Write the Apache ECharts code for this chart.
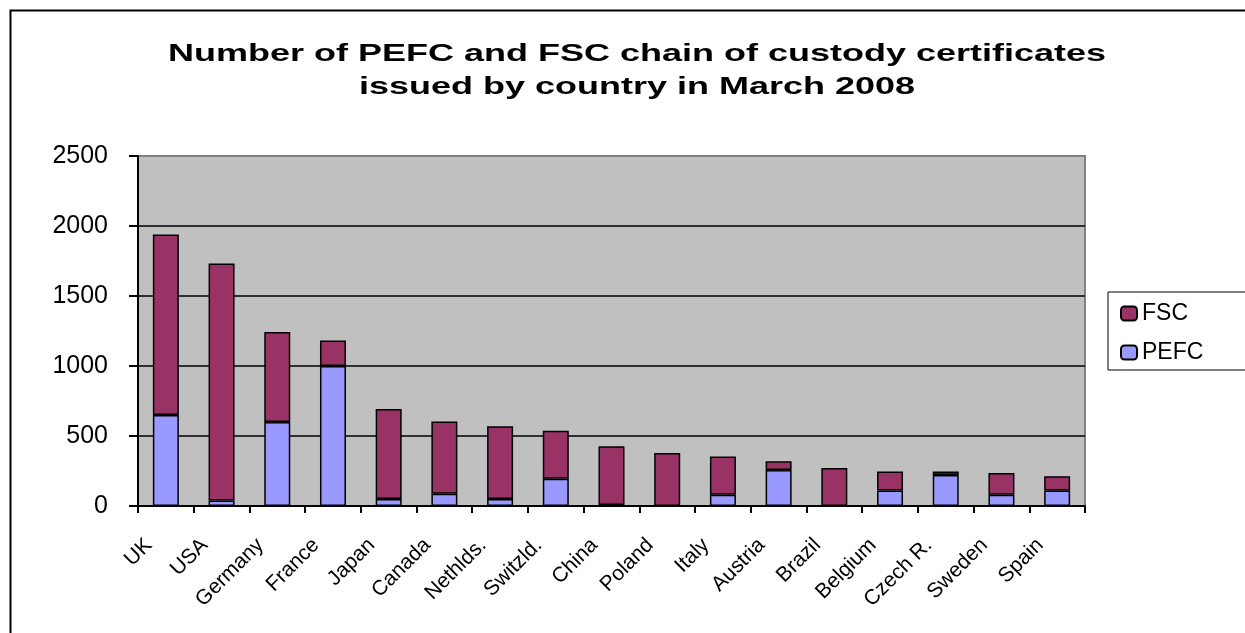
<!DOCTYPE html>
<html>
<head>
<meta charset="utf-8">
<script src="https://cdn.jsdelivr.net/npm/echarts@6/dist/echarts.min.js"></script>
<style>
html,body{margin:0;padding:0;background:#fff;}
#chart{width:1245px;height:633px;}
</style>
</head>
<body>
<div id="chart"></div>
<script>
var titleLines = ['Number of PEFC and FSC chain of custody certificates', 'issued by country in March 2008'];
var categories = ['UK','USA','Germany','France','Japan','Canada','Nethlds.','Switzld.','China','Poland','Italy','Austria','Brazil','Belgium','Czech R.','Sweden','Spain'];
var pefcValues = [650, 40, 600, 1000, 50, 88, 50, 195, 8, 0, 80, 257, 0, 110, 222, 80, 110];
var fscValues = [1290, 1692, 642, 182, 642, 516, 519, 343, 418, 378, 274, 62, 271, 137, 25, 155, 102];
var yTicks = [0, 500, 1000, 1500, 2000, 2500];

var chart = echarts.init(document.getElementById('chart'));
var font = 'Liberation Sans, Arial, sans-serif';
chart.setOption({
  backgroundColor: '#ffffff',
  animation: false,
  graphic: [
    {type: 'rect', shape: {x: 10.5, y: 10.5, width: 1400, height: 800}, style: {fill: 'none', stroke: '#000', lineWidth: 2}, z: 0},
    {type: 'text', x: 637, y: 38, scaleX: 1.5, scaleY: 1, z: 10,
     style: {text: titleLines.join('\n'), font: 'bold 24px ' + font, fill: '#000', textAlign: 'center', textVerticalAlign: 'top', lineHeight: 33}}
  ],
  grid: {left: 138, right: 160, top: 156, bottom: 127, show: true, backgroundColor: '#C0C0C0', borderColor: '#808080', borderWidth: 2},
  legend: {
    data: ['FSC', 'PEFC'], orient: 'vertical', left: 1108, top: 292,
    padding: [10, 80, 6, 12], itemGap: 16, itemWidth: 16, itemHeight: 14,
    borderColor: '#000', borderWidth: 1, backgroundColor: '#fff',
    textStyle: {fontFamily: font, fontSize: 23, color: '#000', lineHeight: 22}
  },
  xAxis: {
    type: 'category', data: categories,
    axisLine: {lineStyle: {color: '#000', width: 2}},
    axisTick: {show: true, length: 7, lineStyle: {color: '#000', width: 2}},
    axisLabel: {interval: 0, rotate: 45, margin: 19, padding: [0, 24, 0, 0], fontFamily: font, fontSize: 21, color: '#000'}
  },
  yAxis: {
    type: 'value', min: 0, max: 2500, interval: 500,
    axisLine: {show: true, lineStyle: {color: '#000', width: 2}},
    axisTick: {show: true, length: 9, lineStyle: {color: '#000', width: 2}},
    axisLabel: {margin: 30, fontFamily: font, fontSize: 25, color: '#000',
      formatter: function (v) { return yTicks.indexOf(v) >= 0 ? String(v) : ''; }},
    splitLine: {show: true, showMaxLine: false, showMinLine: false, lineStyle: {color: '#000', width: 1.5}}
  },
  series: [
    {name: 'PEFC', type: 'bar', stack: 'total', data: pefcValues, barWidth: 26,
     itemStyle: {color: '#9999FF', borderColor: '#000', borderWidth: 1.5}},
    {name: 'FSC', type: 'bar', stack: 'total', data: fscValues, barWidth: 26,
     itemStyle: {color: '#993366', borderColor: '#000', borderWidth: 1.5}}
  ]
});
</script>
</body>
</html>
